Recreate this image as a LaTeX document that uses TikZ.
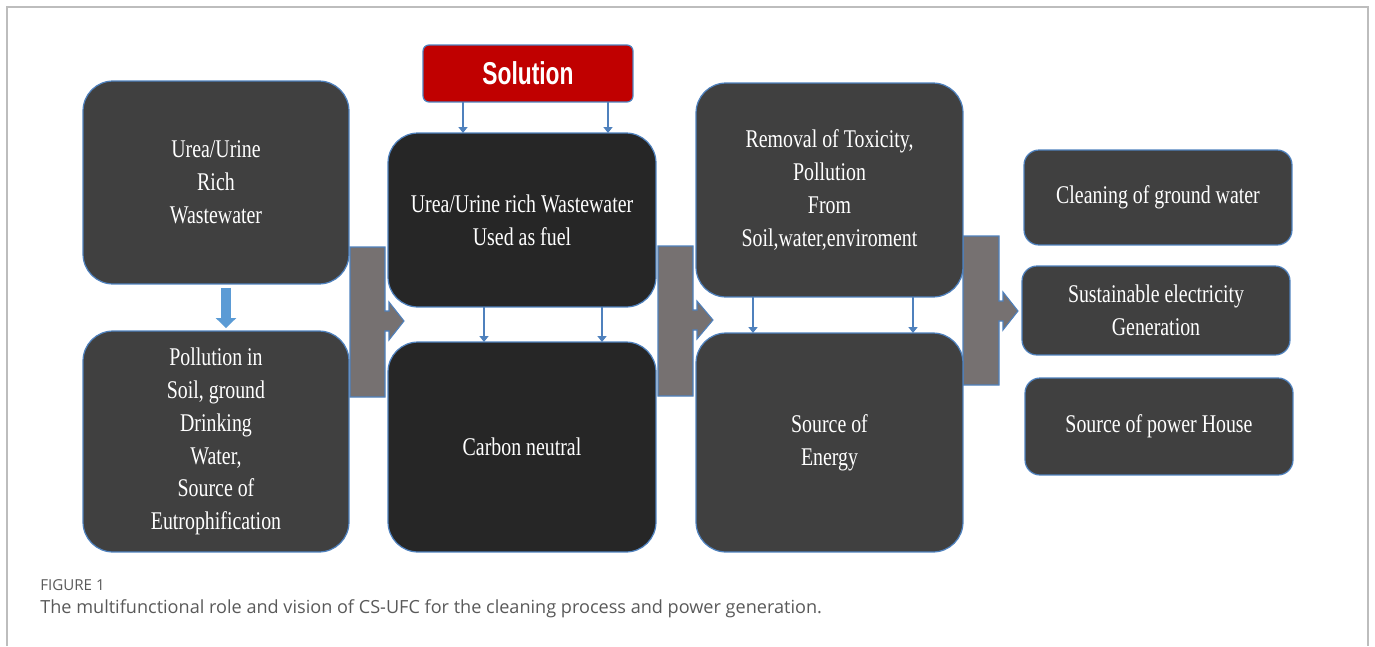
\documentclass[tikz,border=0pt]{standalone}
\usepackage{fontspec}
\newfontfamily\boxfont[FakeStretch=0.78]{Liberation Serif}
\newfontfamily\solfont[FakeStretch=0.72]{Liberation Sans}
\newfontfamily\capfont{Open Sans}
\usetikzlibrary{arrows.meta,positioning}

\definecolor{edgeblue}{HTML}{4F81BD}
\definecolor{arrowblue}{HTML}{5B9BD5}
\definecolor{darkbox}{HTML}{404040}
\definecolor{blackbox}{HTML}{262626}
\definecolor{solred}{HTML}{C00000}
\definecolor{flowgray}{HTML}{767171}
\definecolor{framegray}{HTML}{BDBDBD}
\definecolor{capgray}{HTML}{595959}

\begin{document}
\begin{tikzpicture}[x=0.02cm,y=-0.02cm,
    box/.style={draw=edgeblue,line width=0.7pt,fill=darkbox,rounded corners=0.6cm,
      text=white,align=center,inner sep=0pt,outer sep=0pt,
      font=\boxfont\fontsize{14.5pt}{18.7pt}\selectfont},
    smallbox/.style={box,rounded corners=0.3cm},
    thinarrow/.style={draw=edgeblue,line width=1.4pt,-{Triangle[width=0.18cm,length=0.12cm]}},
    bigarrow/.style={draw=arrowblue,line width=0.2cm,-{Triangle[width=0.4cm,length=0.2cm]}},
    flow/.style={draw=edgeblue,line width=0.6pt,fill=flowgray}]

  \useasboundingbox (0,0) rectangle (1375,646);
  \draw[framegray,line width=0.8pt] (7,646) -- (7,7) -- (1368,7) -- (1368,646);

  % big gray flow arrows behind the boxes
  \foreach \l/\r/\t/\b/\m/\p in {350/385/247/397/321/404, 658/693/246/396/320/713, 963/999/236/385/311/1018}{
    \draw[flow] (\l,\t) -- (\r,\t) -- (\r,\m-10) -- (\r+4,\m-10) -- (\r+4,\m-19) -- (\p,\m)
      -- (\r+4,\m+19) -- (\r+4,\m+10) -- (\r,\m+10) -- (\r,\b) -- (\l,\b) -- cycle;
  }

  % first column
  \node [box,minimum width=5.32cm,minimum height=4.06cm] at(216,182.5) (urea) {Urea/Urine\\Rich\\Wastewater};
  \node [box,minimum width=5.32cm,minimum height=4.42cm] at(216,441.5) (pollution) {Pollution in\\Soil, ground\\Drinking\\Water,\\Source of\\Eutrophification};

  % second column
  \node [box,fill=solred,rounded corners=0.12cm,minimum width=4.2cm,minimum height=1.14cm,
    font=\solfont\bfseries\fontsize{18pt}{20pt}\selectfont] at(528,73.5) (solution) {Solution};
  \node [box,fill=blackbox,minimum width=5.36cm,minimum height=3.48cm] at(522,220) (fuel) {Urea/Urine rich Wastewater\\Used as fuel};
  \node [box,fill=blackbox,minimum width=5.36cm,minimum height=4.2cm] at(522,447) (neutral) {Carbon neutral};

  % third column
  \node [box,minimum width=5.34cm,minimum height=4.28cm] at(829.5,190) (removal) {Removal of Toxicity,\\Pollution\\From\\Soil,water,enviroment};
  \node [box,minimum width=5.34cm,minimum height=4.38cm] at(829.5,442.5) (energy) {Source of\\Energy};

  % outcomes
  \node [smallbox,minimum width=5.36cm,minimum height=1.9cm] at(1158,197.5) (cleaning) {Cleaning of ground water};
  \node [smallbox,minimum width=5.36cm,minimum height=1.78cm] at(1156,310.5) (electricity) {Sustainable electricity\\Generation};
  \node [smallbox,minimum width=5.36cm,minimum height=1.94cm] at(1159,426.5) (power) {Source of power House};

  \draw[bigarrow,shorten <=0.08cm,shorten >=0.06cm] ([xshift=0.2cm]urea.south) -- ([xshift=0.2cm]pollution.north);

  \foreach \x/\a/\b in {463/solution/fuel, 608/solution/fuel, 484/fuel/neutral, 602/fuel/neutral, 753/removal/energy, 913/removal/energy}{
    \coordinate (col_\x) at (\x,0);
    \draw[thinarrow] (\a.south -| col_\x) -- (\b.north -| col_\x);
  }

  \node [anchor=base west,text=capgray,inner sep=0pt,font=\capfont\fontsize{8.6pt}{10pt}\selectfont] at(40,590) (fig_label) {FIGURE 1};
  \node [anchor=base west,text=capgray,inner sep=0pt,font=\capfont\fontsize{10.3pt}{12pt}\selectfont] at(40,613) (fig_caption) {The multifunctional role and vision of CS-UFC for the cleaning process and power generation.};
\end{tikzpicture}
\end{document}
